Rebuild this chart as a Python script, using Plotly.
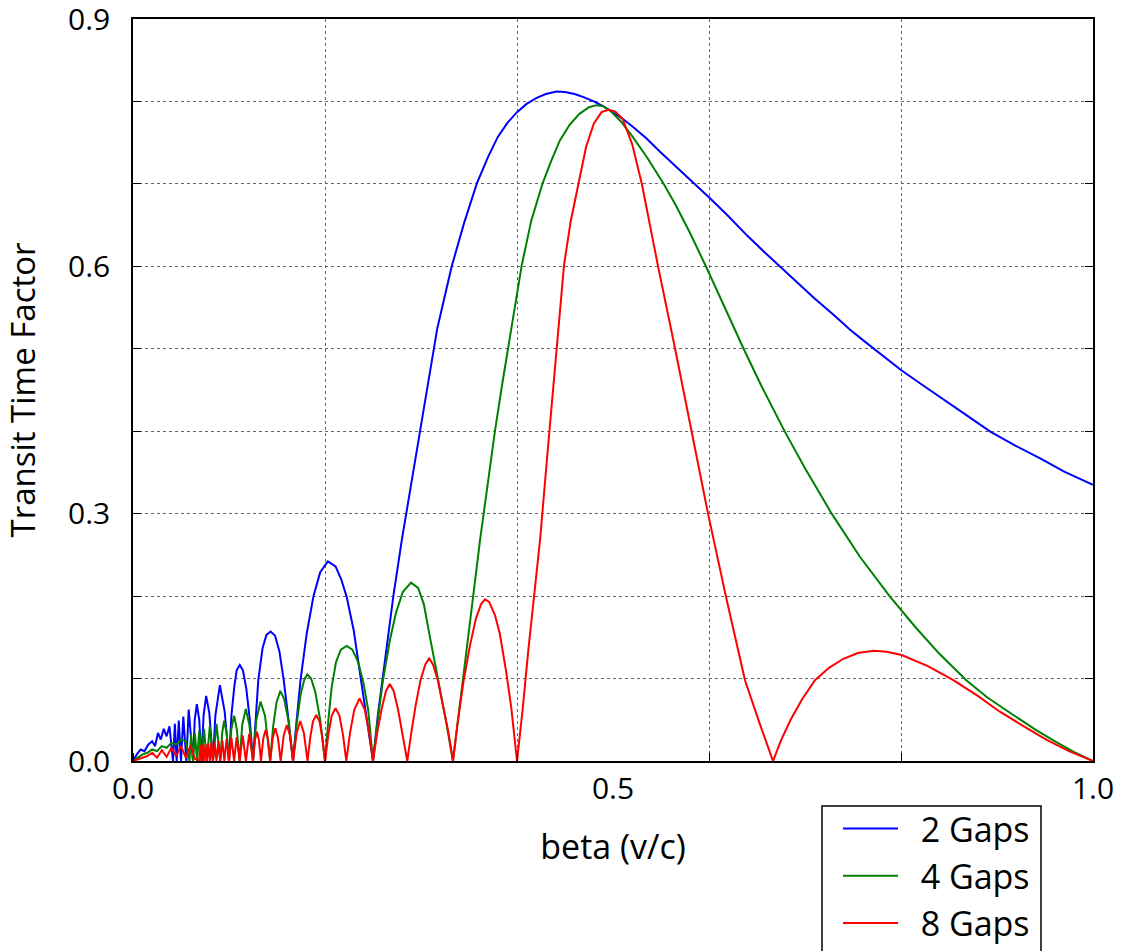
import plotly.graph_objects as go

# ---------------- data ----------------
# (beta, transit time factor) points along each curve
blue_pts = [
    (0.0, 0.0), (0.004, 0.008), (0.008, 0.014), (0.012, 0.012), (0.016, 0.020), (0.02, 0.024),
    (0.023, 0.018), (0.026, 0.034), (0.029, 0.026), (0.032, 0.039), (0.035, 0.030), (0.038, 0.042),
    (0.0417, 0.0), (0.0436, 0.045), (0.0455, 0.0), (0.0477, 0.049), (0.05, 0.0), (0.0524, 0.054),
    (0.0556, 0.0), (0.058, 0.0625), (0.0625, 0.0), (0.0643, 0.050), (0.0665, 0.069), (0.069, 0.050),
    (0.0714, 0.0), (0.0735, 0.055), (0.0762, 0.079), (0.0795, 0.058), (0.0833, 0.0), (0.0858, 0.055),
    (0.0905, 0.092), (0.0955, 0.060), (0.1, 0.0), (0.1025, 0.055), (0.1055, 0.090), (0.108, 0.110),
    (0.1112, 0.1165), (0.1145, 0.110), (0.118, 0.088), (0.1215, 0.052), (0.125, 0.0),
    (0.1275, 0.050), (0.1305, 0.098), (0.135, 0.137), (0.139, 0.153), (0.1434, 0.157),
    (0.148, 0.152), (0.1525, 0.133), (0.157, 0.098), (0.162, 0.050), (0.1667, 0.0),
    (0.1705, 0.050), (0.1745, 0.098), (0.181, 0.155), (0.188, 0.200), (0.195, 0.229),
    (0.203, 0.242), (0.211, 0.236), (0.217, 0.220), (0.2226, 0.199), (0.23, 0.158),
    (0.2375, 0.098), (0.244, 0.050), (0.25, 0.0),
    (0.255, 0.055), (0.26, 0.100), (0.265, 0.145), (0.2712, 0.200), (0.28, 0.268), (0.29, 0.338),
    (0.30, 0.410), (0.31, 0.475), (0.317, 0.525), (0.325, 0.565), (0.332, 0.600), (0.345, 0.653),
    (0.358, 0.700), (0.37, 0.733), (0.38, 0.757), (0.39, 0.774), (0.40, 0.787), (0.41, 0.797),
    (0.42, 0.804), (0.43, 0.809), (0.441, 0.812), (0.45, 0.8115), (0.46, 0.809), (0.47, 0.805),
    (0.48, 0.800), (0.49, 0.794), (0.497, 0.789), (0.51, 0.779), (0.52, 0.770), (0.535, 0.755),
    (0.549, 0.739), (0.562, 0.725), (0.575, 0.710), (0.588, 0.696), (0.601, 0.6825), (0.62, 0.661),
    (0.64, 0.637), (0.657, 0.618), (0.674, 0.600), (0.69, 0.582), (0.71, 0.561), (0.73, 0.541),
    (0.747, 0.523), (0.762, 0.509), (0.778, 0.4945), (0.80, 0.4743), (0.825, 0.454), (0.848, 0.436),
    (0.87, 0.418), (0.893, 0.3995), (0.92, 0.382), (0.945, 0.367), (0.97, 0.351), (1.0, 0.335),
]

green_pts = [
    (0.0, 0.0), (0.005, 0.004), (0.01, 0.008), (0.015, 0.010), (0.02, 0.014), (0.025, 0.012),
    (0.03, 0.018), (0.035, 0.016), (0.04, 0.022), (0.045, 0.020), (0.05, 0.026), (0.055, 0.024),
    (0.0588, 0.0), (0.0605, 0.032), (0.0625, 0.0), (0.0645, 0.034), (0.0667, 0.0), (0.069, 0.037),
    (0.0714, 0.0), (0.074, 0.039), (0.0769, 0.0), (0.080, 0.042), (0.0833, 0.0), (0.087, 0.045),
    (0.0909, 0.0), (0.0929, 0.034), (0.095, 0.049), (0.0975, 0.034), (0.1, 0.0),
    (0.1024, 0.038), (0.1053, 0.055), (0.1082, 0.038), (0.1111, 0.0),
    (0.1138, 0.044), (0.1175, 0.063), (0.1212, 0.044), (0.125, 0.0),
    (0.1285, 0.050), (0.1328, 0.072), (0.1375, 0.055), (0.1429, 0.0),
    (0.146, 0.042), (0.1495, 0.071), (0.1535, 0.085), (0.1575, 0.075), (0.162, 0.048), (0.1667, 0.0),
    (0.1705, 0.045), (0.1745, 0.080), (0.1785, 0.099), (0.1816, 0.105), (0.1855, 0.100),
    (0.19, 0.083), (0.195, 0.050), (0.2, 0.0),
    (0.2035, 0.050), (0.207, 0.090), (0.2115, 0.120), (0.2165, 0.135), (0.2226, 0.1395),
    (0.2285, 0.135), (0.2345, 0.120), (0.24, 0.095), (0.245, 0.062), (0.25, 0.0),
    (0.255, 0.050), (0.26, 0.095), (0.2677, 0.147), (0.274, 0.180), (0.281, 0.205),
    (0.2896, 0.2163), (0.297, 0.210), (0.303, 0.190), (0.309, 0.152), (0.3135, 0.125),
    (0.318, 0.098), (0.3255, 0.052), (0.3333, 0.0),
    (0.34, 0.065), (0.345, 0.110), (0.353, 0.190), (0.3615, 0.268), (0.37, 0.340), (0.377, 0.400),
    (0.385, 0.460), (0.3944, 0.525), (0.405, 0.6017), (0.415, 0.656), (0.4267, 0.7007),
    (0.435, 0.726), (0.4448, 0.753), (0.455, 0.772), (0.465, 0.785), (0.475, 0.793),
    (0.483, 0.7955), (0.49, 0.794), (0.497, 0.789), (0.508, 0.776), (0.52, 0.758), (0.535, 0.733),
    (0.5524, 0.7007), (0.565, 0.675), (0.58, 0.641), (0.5976, 0.598), (0.615, 0.553),
    (0.6358, 0.5006), (0.655, 0.454), (0.679, 0.3995), (0.70, 0.355), (0.7278, 0.300),
    (0.757, 0.248), (0.7885, 0.1993), (0.816, 0.161), (0.84, 0.130), (0.868, 0.098),
    (0.89, 0.077), (0.917, 0.0558), (0.94, 0.038), (0.96, 0.024), (0.98, 0.011), (1.0, 0.0),
]

red_pts = [
    (0.0, 0.0), (0.005, 0.002), (0.01, 0.004), (0.015, 0.006), (0.02, 0.010), (0.025, 0.004),
    (0.03, 0.013), (0.035, 0.005), (0.04, 0.016), (0.045, 0.006), (0.05, 0.018), (0.055, 0.004),
    (0.06, 0.019), (0.064, 0.003), (0.069, 0.0), (0.0702, 0.019), (0.0714, 0.0), (0.0727, 0.020),
    (0.0741, 0.0), (0.0755, 0.0205), (0.0769, 0.0), (0.0784, 0.021), (0.08, 0.0), (0.0816, 0.022),
    (0.0833, 0.0), (0.085, 0.023), (0.087, 0.0), (0.089, 0.024), (0.0909, 0.0), (0.093, 0.025),
    (0.0952, 0.0), (0.0975, 0.0265), (0.1, 0.0), (0.1025, 0.028), (0.1053, 0.0), (0.108, 0.029),
    (0.1111, 0.0), (0.1142, 0.031), (0.1176, 0.0), (0.121, 0.033), (0.125, 0.0),
    (0.127, 0.025), (0.1291, 0.0356), (0.1312, 0.025), (0.1333, 0.0),
    (0.1357, 0.027), (0.1381, 0.0376), (0.1405, 0.027), (0.1429, 0.0),
    (0.1456, 0.028), (0.1483, 0.0396), (0.151, 0.028), (0.1538, 0.0),
    (0.157, 0.031), (0.1602, 0.0437), (0.1635, 0.031), (0.1667, 0.0),
    (0.1705, 0.034), (0.1742, 0.0485), (0.178, 0.034), (0.1818, 0.0),
    (0.1848, 0.030), (0.1875, 0.048), (0.1909, 0.056), (0.1943, 0.048), (0.197, 0.030), (0.2, 0.0),
    (0.2035, 0.032), (0.207, 0.055), (0.211, 0.064), (0.215, 0.055), (0.2187, 0.032), (0.2222, 0.0),
    (0.2262, 0.035), (0.2305, 0.062), (0.236, 0.076), (0.2415, 0.062), (0.2458, 0.035), (0.25, 0.0),
    (0.2545, 0.035), (0.259, 0.063), (0.2635, 0.085), (0.2675, 0.0934), (0.2715, 0.085),
    (0.276, 0.063), (0.2805, 0.035), (0.2857, 0.0),
    (0.29, 0.035), (0.2945, 0.068), (0.2995, 0.098), (0.3045, 0.117), (0.3085, 0.1245),
    (0.3125, 0.117), (0.3175, 0.098), (0.3225, 0.068), (0.3285, 0.035), (0.3333, 0.0),
    (0.338, 0.045), (0.3445, 0.098), (0.351, 0.140), (0.357, 0.172), (0.3625, 0.190),
    (0.3667, 0.196), (0.371, 0.193), (0.377, 0.177), (0.382, 0.155), (0.3885, 0.110),
    (0.394, 0.065), (0.4, 0.0),
    (0.406, 0.064), (0.4118, 0.1346), (0.418, 0.200), (0.424, 0.268), (0.433, 0.390),
    (0.443, 0.525), (0.449, 0.6017), (0.456, 0.655), (0.464, 0.7007), (0.472, 0.745),
    (0.48, 0.773), (0.488, 0.787), (0.495, 0.790), (0.502, 0.788), (0.51, 0.779), (0.52, 0.748),
    (0.5299, 0.7007), (0.547, 0.5996), (0.5646, 0.5006), (0.582, 0.3995), (0.599, 0.300),
    (0.6177, 0.1993), (0.6375, 0.098), (0.652, 0.048), (0.6667, 0.0),
    (0.675, 0.025), (0.685, 0.050), (0.697, 0.075), (0.7104, 0.098), (0.725, 0.113), (0.74, 0.124),
    (0.755, 0.131), (0.7712, 0.1338), (0.785, 0.1325), (0.8007, 0.1286), (0.828, 0.115),
    (0.8545, 0.098), (0.88, 0.079), (0.903, 0.0598), (0.928, 0.042), (0.9517, 0.0255),
    (0.975, 0.012), (1.0, 0.0),
]

series_names = ["2 Gaps", "4 Gaps", "8 Gaps"]
series_colors = ["#0000ff", "#008000", "#ff0000"]

y_tick_vals = [0.0, 0.1, 0.2, 0.3, 0.4, 0.5, 0.6, 0.7, 0.8, 0.9]
y_tick_text = ["0.0", "", "", "0.3", "", "", "0.6", "", "", "0.9"]
x_label_vals = [0.0, 0.5, 1.0]
x_label_text = ["0.0", "0.5", "1.0"]
x_grid_vals = [0.0, 0.2, 0.4, 0.6, 0.8, 1.0]

FONT = "Open Sans"
NBSP = "\u00a0"

fig = go.Figure()
for pts, name, col in zip([blue_pts, green_pts, red_pts], series_names, series_colors):
    xs = [p[0] for p in pts]
    ys = [p[1] for p in pts]
    fig.add_trace(go.Scatter(x=xs, y=ys, mode="lines", name=NBSP * 2 + name,
                             line=dict(color=col, width=2)))

# legend frame (the box of the reference legend)
fig.add_shape(type="rect", xref="paper", yref="paper",
              x0=(822 - 133) / 960, x1=(1041 - 133) / 960,
              y0=(761 - 990) / 742, y1=(761 - 806) / 742,
              line=dict(color="black", width=1.5), fillcolor="rgba(0,0,0,0)")

fig.update_layout(
    width=1123, height=951,
    margin=dict(l=133, r=30, t=19, b=190, autoexpand=False),
    paper_bgcolor="white", plot_bgcolor="white",
    font=dict(family=FONT, size=30, color="black"),
    showlegend=True,
    legend=dict(x=(838 - 133) / 960, y=(761 - 800) / 742, xanchor="left", yanchor="top",
                bgcolor="rgba(0,0,0,0)", borderwidth=0,
                font=dict(family=FONT, size=34, color="black"),
                itemwidth=55),
    # extra top axis only to draw the inside tick marks along the upper frame
    xaxis2=dict(overlaying="x", side="top", anchor="y", range=[0, 1], autorange=False,
                automargin=False, tickmode="array", tickvals=x_grid_vals,
                ticks="inside", ticklen=8, tickcolor="black", showticklabels=False,
                showgrid=False, zeroline=False, showline=False),
)

fig.update_xaxes(
    selector=dict(anchor="y", side="bottom"),
)
fig.layout.xaxis.update(
    range=[0, 1], autorange=False, automargin=False,
    tickmode="array", tickvals=x_label_vals, ticktext=x_label_text,
    ticks="", showgrid=False, zeroline=False, ticklabelstandoff=0,
    ticklabeloverflow="allow",
    showline=True, linecolor="black", linewidth=1.5, mirror=True,
    tickfont=dict(size=30),
    minor=dict(tickmode="array", tickvals=x_grid_vals, ticks="inside", ticklen=8,
               tickcolor="black", showgrid=True, gridcolor="#666666", griddash="dot",
               gridwidth=1),
    title=dict(text="beta (v/c)", font=dict(size=34), standoff=28),
)
fig.update_yaxes(
    range=[0, 0.9000001], autorange=False, automargin=False,
    tickmode="array", tickvals=y_tick_vals, ticktext=y_tick_text,
    ticks="inside", ticklen=8, tickcolor="black", ticklabelstandoff=15,
    ticklabeloverflow="allow",
    showgrid=True, gridcolor="#666666", griddash="dot", gridwidth=1, zeroline=False,
    showline=True, linecolor="black", linewidth=1.5, mirror="ticks",
    tickfont=dict(size=30),
    title=dict(text="Transit Time Factor", font=dict(size=33), standoff=32),
)

fig.write_html("out.html")
